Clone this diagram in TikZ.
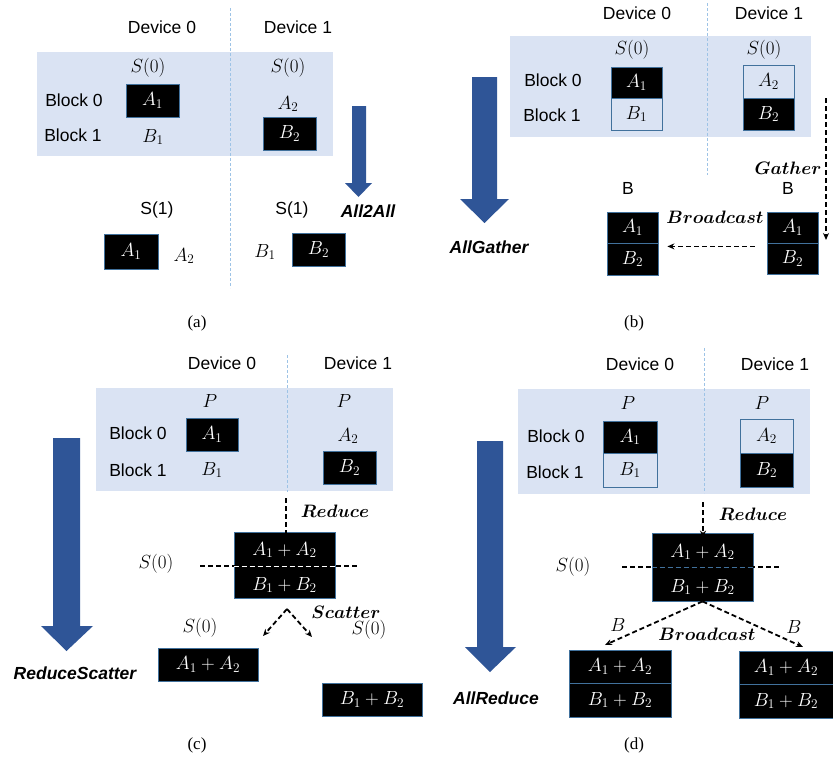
\RequirePackage{fix-cm}
\documentclass[tikz,border=0pt]{standalone}
\usepackage{bm}
\usepackage{fontspec}
\newfontfamily\arialf{Liberation Sans}
\newfontfamily\timesf{Liberation Serif}
\usetikzlibrary{arrows.meta}
\definecolor{panelblue}{HTML}{DAE3F3}
\definecolor{arrowblue}{HTML}{2F5597}
\definecolor{sepblue}{HTML}{9DC3E6}
\definecolor{edgeblue}{HTML}{41719C}
\tikzset{
  lbl/.style={font=\arialf\fontsize{17.5}{20}\selectfont, inner sep=0},
  mth/.style={font=\fontsize{19}{22}\selectfont, inner sep=0},
  wtxt/.style={font=\fontsize{19}{22}\selectfont, inner sep=0, text=white},
  blk/.style={fill=black, draw=edgeblue, line width=0.8pt, text=white, inner sep=0, font=\fontsize{19}{22}\selectfont},
  lite/.style={fill=panelblue, draw=edgeblue, line width=0.8pt, inner sep=0, font=\fontsize{19}{22}\selectfont},
  opname/.style={font=\fontsize{18}{21}\selectfont, inner sep=0},
  coll/.style={font=\arialf\bfseries\itshape\fontsize{17.5}{20}\selectfont, inner sep=0},
  capt/.style={font=\timesf\fontsize{17}{20}\selectfont, inner sep=0},
  devsep/.style={draw=sepblue, line width=0.8pt, dash pattern=on 3pt off 2pt},
  flow/.style={-{Stealth[length=7pt,width=6pt]}, line width=1.8pt, dash pattern=on 5pt off 3pt},
  panel/.style={fill=panelblue, draw=none},
  bigarrow/.style={fill=arrowblue},
}
\begin{document}
\begin{tikzpicture}[x=1pt,y=-1pt]
\useasboundingbox (0,0) rectangle (833,763);

% ================= (a) =================
\fill[panel] (37,52) rectangle (333,156);
\draw[devsep] (230,8) -- (230,288);
\node[lbl] (a-d0) at (162,27) {Device 0};
\node[lbl] (a-d1) at (298,27) {Device 1};
\node[mth] (a-s0l) at (148,68) {$S(0)$};
\node[mth] (a-s0r) at (288,68) {$S(0)$};
\node[lbl] (a-b0) at (74,100) {Block 0};
\node[lbl] (a-b1) at (73,135) {Block 1};
\node[blk, minimum width=53pt, minimum height=33pt] (a-A1) at (152.5,100.5) {$A_1$};
\node[mth] (a-A2) at (288,104) {$A_2$};
\node[mth] (a-B1) at (153,137) {$B_1$};
\node[blk, minimum width=53pt, minimum height=33pt] (a-B2) at (289.5,133.5) {$B_2$};
\fill[bigarrow] (352,106) -- (366,106) -- (366,183) -- (372,183) -- (358.5,197) -- (345,183) -- (352,183) -- cycle;
\node[coll] (a-op) at (368,211) {All2All};
\node[lbl] (a-s1l) at (157,210) {S(1)};
\node[lbl] (a-s1r) at (292,210) {S(1)};
\node[blk, minimum width=54pt, minimum height=35pt] (a-A1b) at (131,251.5) {$A_1$};
\node[mth] (a-A2b) at (184,256) {$A_2$};
\node[mth] (a-B1b) at (265,252) {$B_1$};
\node[blk, minimum width=53pt, minimum height=33pt] (a-B2b) at (318.5,249.5) {$B_2$};
\node[capt] (a-cap) at (197,323) {(a)};

% ================= (b) =================
\fill[panel] (510,36) rectangle (811,137);
\draw[devsep] (707,3) -- (707,175);
\node[lbl] (b-d0) at (637,13) {Device 0};
\node[lbl] (b-d1) at (769,13) {Device 1};
\node[mth] (b-s0l) at (632,50) {$S(0)$};
\node[mth] (b-s0r) at (764,50) {$S(0)$};
\node[lbl] (b-b0) at (553,80) {Block 0};
\node[lbl] (b-b1) at (552,115) {Block 1};
\node[blk, minimum width=51pt, minimum height=31pt] (b-A1) at (636.5,82.5) {$A_1$};
\node[lite, minimum width=51pt, minimum height=32pt] (b-B1) at (636.5,114) {$B_1$};
\node[lite, minimum width=51pt, minimum height=33pt] (b-A2) at (768.5,81.5) {$A_2$};
\node[blk, minimum width=51pt, minimum height=32pt] (b-B2) at (768.5,114) {$B_2$};
\fill[bigarrow] (472,77) -- (497,77) -- (497,199) -- (509,199) -- (484.5,223) -- (460,199) -- (472,199) -- cycle;
\node[coll] (b-op) at (489,247) {AllGather};
\node[opname] (b-gather) at (788,168) {$\bm{Gather}$};
\coordinate (b-gs) at (826,98);
\coordinate (b-ge) at (826,240);
\draw[flow] (b-gs) -- (b-ge);
\node[lbl] (b-Bl) at (628,188) {B};
\node[lbl] (b-Br) at (788,188) {B};
\node[blk, minimum width=51pt, minimum height=31pt] (b-lA1) at (632.5,227.5) {$A_1$};
\node[blk, minimum width=51pt, minimum height=32pt] (b-lB2) at (632.5,259) {$B_2$};
\node[blk, minimum width=51pt, minimum height=31pt] (b-rA1) at (792.5,227.5) {$A_1$};
\node[blk, minimum width=51pt, minimum height=31pt] (b-rB2) at (792.5,258.5) {$B_2$};
\node[opname] (b-bcast) at (715,217) {$\bm{Broadcast}$};
\draw[flow] ([xshift=-12pt,yshift=-3pt]b-rA1.south west) -- ([xshift=9pt,yshift=-3pt]b-lA1.south east);
\node[capt] (b-cap) at (634,323) {(b)};

% ================= (c) =================
\fill[panel] (96,388) rectangle (393,491);
\draw[devsep] (287,355) -- (287,492);
\node[lbl] (c-d0) at (222,363) {Device 0};
\node[lbl] (c-d1) at (358,363) {Device 1};
\node[mth] (c-Pl) at (210,401) {$P$};
\node[mth] (c-Pr) at (344,401) {$P$};
\node[lbl] (c-b0) at (138,433) {Block 0};
\node[lbl] (c-b1) at (138,470) {Block 1};
\node[blk, minimum width=52pt, minimum height=33pt] (c-A1) at (212,434.5) {$A_1$};
\node[mth] (c-A2) at (348,436) {$A_2$};
\node[mth] (c-B1) at (212,470) {$B_1$};
\node[blk, minimum width=53pt, minimum height=33pt] (c-B2) at (349.5,467.5) {$B_2$};
\coordinate (c-rs) at (286,498);
\node[blk, minimum width=101pt, minimum height=66pt] (c-big) at (284.5,565) {};
\draw[flow] (c-rs) -- ([yshift=-9pt]c-big.north -| c-rs);
\node[opname] (c-reduce) at (335,511) {$\bm{Reduce}$};
\draw[line width=1.2pt, dash pattern=on 5pt off 3pt] (200,566) -- (359,566);
\draw[white, line width=0.8pt, dash pattern=on 5pt off 3pt] (c-big.west |- 0,566) -- (c-big.east |- 0,566);
\node[wtxt] (c-t1) at (284.5,550) {$A_1+A_2$};
\node[wtxt] (c-t2) at (284.5,585) {$B_1+B_2$};
\node[mth] (c-s0) at (156,564) {$S(0)$};
\coordinate (c-apex) at (287,609);
\coordinate (c-sl) at (263,636);
\coordinate (c-sr) at (312,637);
\draw[flow] (c-apex) -- (c-sl);
\draw[flow] (c-apex) -- (c-sr);
\node[opname] (c-scatter) at (346,612) {$\bm{Scatter}$};
\node[mth] (c-s0l) at (200,628) {$S(0)$};
\node[mth] (c-s0r) at (369,630) {$S(0)$};
\node[blk, minimum width=100pt, minimum height=33pt] (c-A) at (208,664.5) {$A_1+A_2$};
\node[blk, minimum width=100pt, minimum height=33pt] (c-B) at (372,699.5) {$B_1+B_2$};
\fill[bigarrow] (53,438) -- (80,438) -- (80,626) -- (93,626) -- (66.5,651) -- (41,626) -- (53,626) -- cycle;
\node[coll] (c-op) at (75,673) {ReduceScatter};
\node[capt] (c-cap) at (197,745) {(c)};

% ================= (d) =================
\fill[panel] (518,389) rectangle (810,494);
\draw[devsep] (704,348) -- (704,493);
\node[lbl] (d-d0) at (640,364) {Device 0};
\node[lbl] (d-d1) at (775,364) {Device 1};
\node[mth] (d-Pl) at (628,403) {$P$};
\node[mth] (d-Pr) at (762,403) {$P$};
\node[lbl] (d-b0) at (556,436) {Block 0};
\node[lbl] (d-b1) at (555,472) {Block 1};
\node[blk, minimum width=54pt, minimum height=32pt] (d-A1) at (630,437) {$A_1$};
\node[lite, minimum width=54pt, minimum height=34pt] (d-B1) at (630,470) {$B_1$};
\node[lite, minimum width=53pt, minimum height=34pt] (d-A2) at (766.5,436) {$A_2$};
\node[blk, minimum width=53pt, minimum height=34pt] (d-B2) at (766.5,470) {$B_2$};
\coordinate (d-rs) at (703,502);
\node[blk, minimum width=101pt, minimum height=68pt] (d-big) at (702.5,567) {};
\draw[flow] (d-rs) -- ([yshift=-5pt]d-big.north -| d-rs);
\node[opname] (d-reduce) at (753,514) {$\bm{Reduce}$};
\draw[line width=1.2pt, dash pattern=on 5pt off 3pt] (622,567) -- (781,567);
\draw[edgeblue, line width=0.8pt, dash pattern=on 5pt off 3pt] (d-big.west |- 0,567) -- (d-big.east |- 0,567);
\node[wtxt] (d-t1) at (702.5,552) {$A_1+A_2$};
\node[wtxt] (d-t2) at (702.5,587) {$B_1+B_2$};
\node[mth] (d-s0) at (573,567) {$S(0)$};
\coordinate (d-bl) at (605,645);
\coordinate (d-br) at (803,647);
\draw[flow] (d-big.south) -- (d-bl);
\draw[flow] (d-big.south) -- (d-br);
\node[mth] (d-Bl) at (618,625) {$B$};
\node[mth] (d-Br) at (794,627) {$B$};
\node[opname] (d-bcast) at (707,634) {$\bm{Broadcast}$};
\node[blk, minimum width=102pt, minimum height=33pt] (d-lA) at (620,666.5) {$A_1+A_2$};
\node[blk, minimum width=102pt, minimum height=34pt] (d-lB) at (620,700) {$B_1+B_2$};
\node[blk, minimum width=94pt, minimum height=33pt] (d-rA) at (786,667.5) {$A_1+A_2$};
\node[blk, minimum width=94pt, minimum height=34pt] (d-rB) at (786,701) {$B_1+B_2$};
\fill[bigarrow] (477,441) -- (503,441) -- (503,647) -- (516,647) -- (490,672) -- (465,647) -- (477,647) -- cycle;
\node[coll] (d-op) at (496,698) {AllReduce};
\node[capt] (d-cap) at (634,745) {(d)};
\end{tikzpicture}
\end{document}
